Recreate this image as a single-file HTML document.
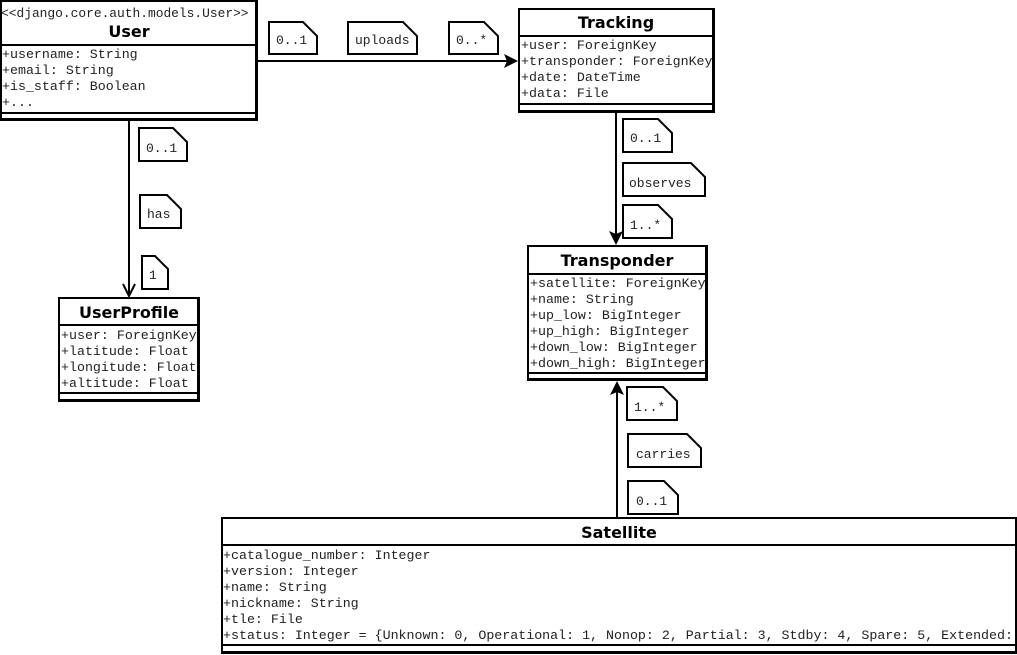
<!DOCTYPE html>
<html><head><meta charset="utf-8"><style>
html,body{margin:0;padding:0;background:#fff;}
svg{display:block;}
.m{font-family:"Liberation Mono","Courier New",monospace;font-size:13.3px;fill:#222;}
.t{font-family:"Liberation Mono","Courier New",monospace;font-size:13px;fill:#222;}
.n{font-family:"DejaVu Sans","Liberation Sans",sans-serif;font-size:16px;font-weight:bold;fill:#000;}
.b{fill:#fff;stroke:#000;stroke-width:2;}
.l{stroke:#000;stroke-width:2;fill:none;}
</style></head><body>
<svg width="1017" height="655" viewBox="0 0 1017 655" xmlns="http://www.w3.org/2000/svg">
<defs>
<clipPath id="cu"><rect x="0" y="0" width="257" height="120"/></clipPath>
<clipPath id="ct"><rect x="518" y="8" width="196" height="104"/></clipPath>
<clipPath id="cp"><rect x="527" y="245" width="180" height="135"/></clipPath>
<clipPath id="cup"><rect x="58" y="297" width="141" height="104"/></clipPath>
<clipPath id="cs"><rect x="221" y="517" width="796" height="136"/></clipPath>
</defs>

<line class="l" x1="257" y1="61" x2="508" y2="61"/>
<polygon points="518,61 504,54 507,61 504,68" fill="#000"/>
<line class="l" x1="129" y1="120" x2="129" y2="296"/>
<polyline class="l" points="123,284 129,296 135,284"/>
<line class="l" x1="616" y1="112" x2="616" y2="236"/>
<polygon points="616,245 609,231 616,234 623,231" fill="#000"/>
<line class="l" x1="617" y1="517" x2="617" y2="390"/>
<polygon points="617,381 610,395 617,392 624,395" fill="#000"/>

<g clip-path="url(#cu)">
<rect class="b" x="1" y="1" width="255" height="118"/>
<text class="m" x="1" y="17" style="font-size:12.9px">&lt;&lt;django.core.auth.models.User&gt;&gt;</text>
<text class="n" x="129" y="37" text-anchor="middle">User</text>
<line class="l" x1="0" y1="45" x2="257" y2="45"/>
<text class="m" x="2" y="58">+username: String</text>
<text class="m" x="2" y="74">+email: String</text>
<text class="m" x="2" y="90">+is_staff: Boolean</text>
<text class="m" x="2" y="106">+...</text>
<line class="l" x1="0" y1="113" x2="257" y2="113"/>
</g>
<rect class="l" x="1" y="1" width="256" height="119"/>

<g clip-path="url(#ct)">
<rect class="b" x="519" y="9" width="194" height="102"/>
<text class="n" x="616" y="28" text-anchor="middle">Tracking</text>
<line class="l" x1="518" y1="36" x2="714" y2="36"/>
<text class="m" x="521" y="49">+user: ForeignKey</text>
<text class="m" x="521" y="65">+transponder: ForeignKey</text>
<text class="m" x="521" y="81">+date: DateTime</text>
<text class="m" x="521" y="97">+data: File</text>
<line class="l" x1="518" y1="104" x2="714" y2="104"/>
</g>
<rect class="l" x="519" y="9" width="195" height="103"/>

<g clip-path="url(#cp)">
<rect class="b" x="528" y="246" width="178" height="133"/>
<text class="n" x="617" y="266" text-anchor="middle">Transponder</text>
<line class="l" x1="527" y1="274" x2="707" y2="274"/>
<text class="m" x="530" y="287">+satellite: ForeignKey</text>
<text class="m" x="530" y="303">+name: String</text>
<text class="m" x="530" y="319">+up_low: BigInteger</text>
<text class="m" x="530" y="335">+up_high: BigInteger</text>
<text class="m" x="530" y="351">+down_low: BigInteger</text>
<text class="m" x="530" y="367">+down_high: BigInteger</text>
<line class="l" x1="527" y1="373" x2="707" y2="373"/>
</g>
<rect class="l" x="528" y="246" width="179" height="134"/>

<g clip-path="url(#cup)">
<rect class="b" x="59" y="298" width="139" height="102"/>
<text class="n" x="129" y="318" text-anchor="middle">UserProfile</text>
<line class="l" x1="58" y1="325" x2="199" y2="325"/>
<text class="m" x="61" y="339">+user: ForeignKey</text>
<text class="m" x="61" y="355">+latitude: Float</text>
<text class="m" x="61" y="371">+longitude: Float</text>
<text class="m" x="61" y="387">+altitude: Float</text>
<line class="l" x1="58" y1="393" x2="199" y2="393"/>
</g>
<rect class="l" x="59" y="298" width="140" height="103"/>

<g clip-path="url(#cs)">
<rect class="b" x="222" y="518" width="794" height="134"/>
<text class="n" x="619" y="538" text-anchor="middle">Satellite</text>
<line class="l" x1="221" y1="545" x2="1017" y2="545"/>
<text class="m" x="223" y="559">+catalogue_number: Integer</text>
<text class="m" x="223" y="575">+version: Integer</text>
<text class="m" x="223" y="591">+name: String</text>
<text class="m" x="223" y="607">+nickname: String</text>
<text class="m" x="223" y="623">+tle: File</text>
<text class="m" x="223" y="639">+status: Integer = {Unknown: 0, Operational: 1, Nonop: 2, Partial: 3, Stdby: 4, Spare: 5, Extended:</text>
<line class="l" x1="221" y1="645" x2="1017" y2="645"/>
</g>
<rect class="l" x="222" y="518" width="794" height="135"/>

<g stroke="#000" stroke-width="2" fill="#fff">
<path d="M269,22 H303 L317,36 V54 H269 Z"/>
<path d="M348,22 H403 L417,36 V54 H348 Z"/>
<path d="M449,22 H484 L498,36 V54 H449 Z"/>
<path d="M139,128 H173 L187,142 V161 H139 Z"/>
<path d="M140,195 H167 L181,209 V228 H140 Z"/>
<path d="M142,256 H155 L168,269 V289 H142 Z"/>
<path d="M623,119 H658 L672,133 V152 H623 Z"/>
<path d="M623,163 H691 L705,177 V196 H623 Z"/>
<path d="M623,205 H658 L672,219 V238 H623 Z"/>
<path d="M627,387 H663 L677,401 V420 H627 Z"/>
<path d="M628,434 H687 L701,448 V467 H628 Z"/>
<path d="M628,481 H664 L678,495 V514 H628 Z"/>
</g>
<text class="t" x="276" y="44">0..1</text>
<text class="t" x="355" y="44">uploads</text>
<text class="t" x="456" y="44">0..*</text>
<text class="t" x="146" y="152">0..1</text>
<text class="t" x="147" y="218">has</text>
<text class="t" x="149" y="279">1</text>
<text class="t" x="630" y="142">0..1</text>
<text class="t" x="629" y="187">observes</text>
<text class="t" x="630" y="229">1..*</text>
<text class="t" x="634" y="411">1..*</text>
<text class="t" x="636" y="458">carries</text>
<text class="t" x="636" y="505">0..1</text>
</svg>
</body></html>
